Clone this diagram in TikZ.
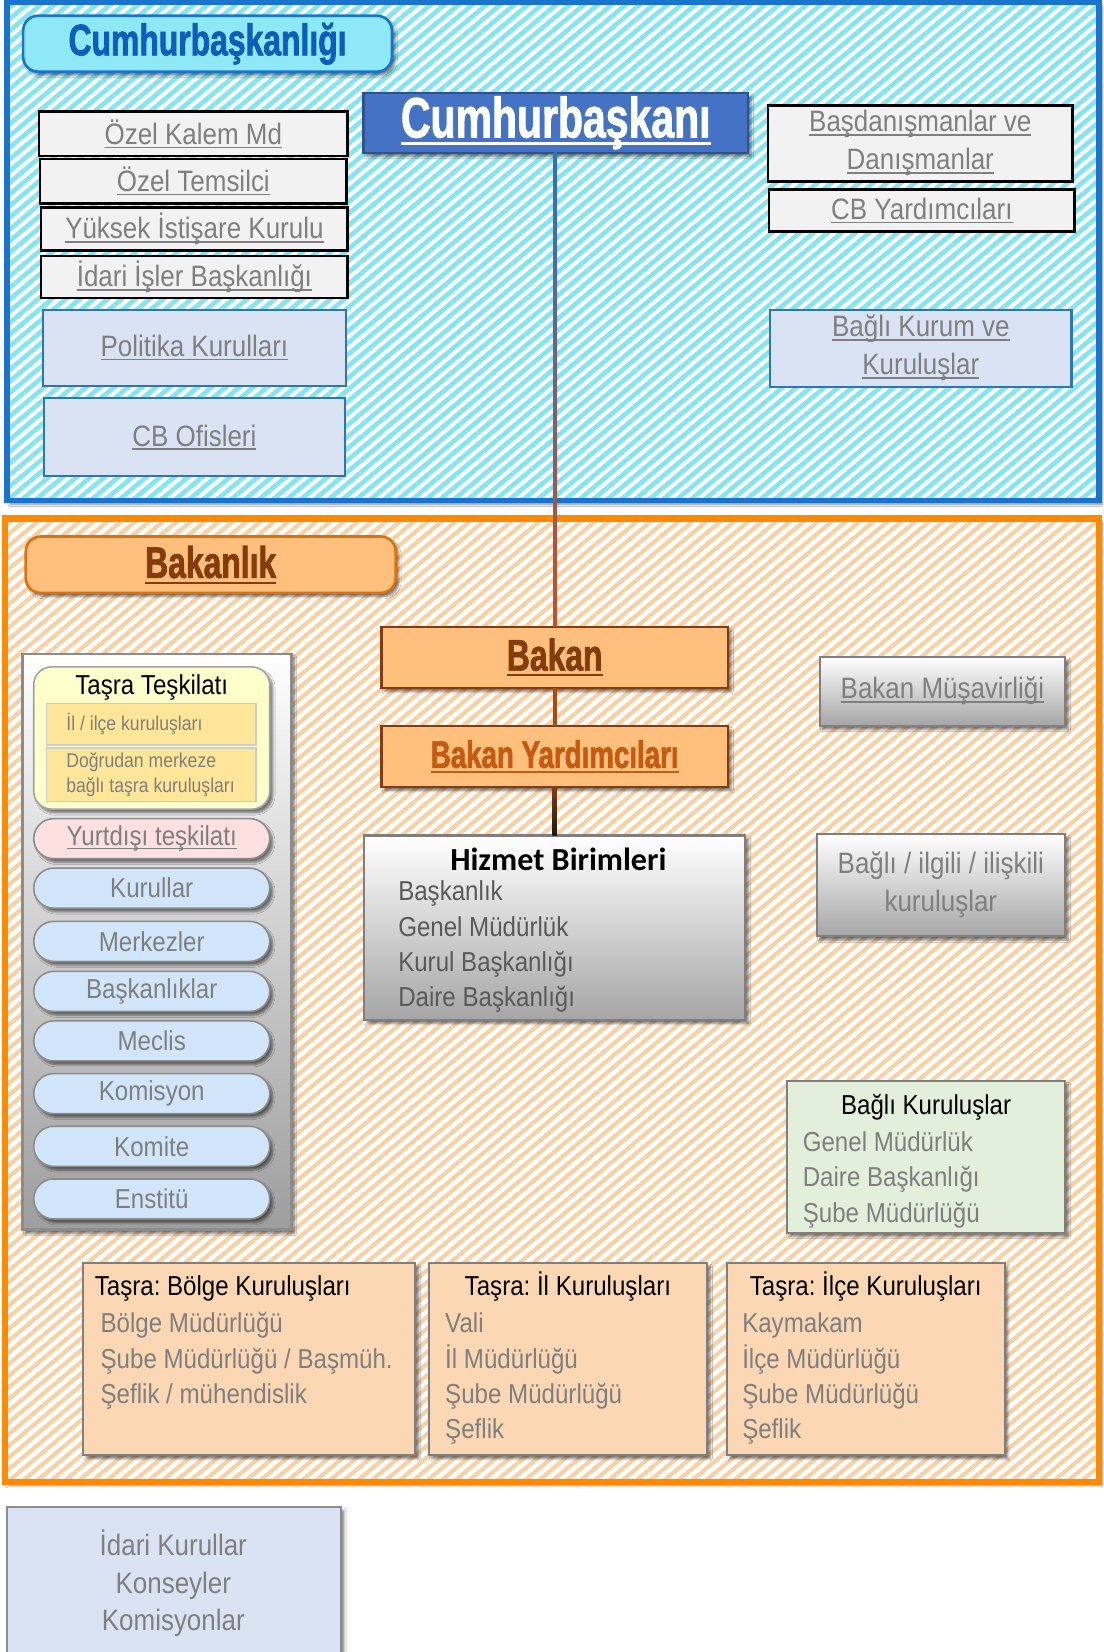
\documentclass[tikz,border=0pt]{standalone}
\usepackage{fontspec}
\setmainfont{Liberation Sans}[FakeStretch=0.88]
\newfontfamily\headfont{Liberation Sans}[FakeStretch=0.72,BoldFeatures={FakeBold=1.5}]
\newfontfamily\calfont{Carlito}
\usetikzlibrary{positioning,shadows.blur,patterns.meta}
\frenchspacing

\newcommand\undlthick{1.4pt}
\newcommand\undl[1]{\leavevmode\setbox0=\hbox{#1}\rlap{\rule[-0.13em]{\wd0}{\undlthick}}\box0}

\definecolor{frameblue}{HTML}{1874CD}
\definecolor{stripecyan}{HTML}{84E5F2}
\definecolor{headcyan}{HTML}{8FE8F5}
\definecolor{headblue}{HTML}{0B5FBA}
\definecolor{cbblue}{HTML}{4472C4}
\definecolor{cbborder}{HTML}{2F528F}
\definecolor{frameorange}{HTML}{FF8A00}
\definecolor{stripeorange}{HTML}{FCCFA0}
\definecolor{headorange}{HTML}{FFC07E}
\definecolor{headedge}{HTML}{D9720F}
\definecolor{bkbrown}{HTML}{843C0C}
\definecolor{bkrust}{HTML}{C55A11}
\definecolor{boxgray}{HTML}{F2F2F2}
\definecolor{txtgray}{HTML}{7F7F7F}
\definecolor{deepgray}{HTML}{595959}
\definecolor{edgegray}{HTML}{8C8C8C}
\definecolor{paleblue}{HTML}{DAE3F3}
\definecolor{policyedge}{HTML}{2E75B6}
\definecolor{pillblue}{HTML}{D2E6FB}
\definecolor{pillpink}{HTML}{FDE0E0}
\definecolor{paleyellow}{HTML}{FFFFCC}
\definecolor{goldfill}{HTML}{FFE699}
\definecolor{palegreen}{HTML}{E2EFDA}
\definecolor{peach}{HTML}{FBD7B4}
\definecolor{linepurple}{HTML}{8A5A92}
\definecolor{linered}{HTML}{C0522A}

\newcommand\boxfont{\fontsize{28}{36}\selectfont}
\newcommand\listfont{\fontsize{26}{33.5}\selectfont}
\newcommand\bigfont{\headfont\bfseries\fontsize{42}{44}\selectfont\def\undlthick{2pt}}

\tikzset{
  wh/.style 2 args={minimum width=#1pt,minimum height=#2pt},
  shadowed/.style={blur shadow={shadow xshift=3pt,shadow yshift=-3.5pt,shadow blur steps=6,shadow opacity=50}},
  blueframe/.style={fill=white,shadowed,
    postaction={pattern={Lines[angle=40,distance=8.5pt,line width=4.4pt]},pattern color=stripecyan},
    postaction={draw=frameblue,line width=5.5pt}},
  orangeframe/.style={fill=white,shadowed,
    postaction={pattern={Lines[angle=40,distance=8.5pt,line width=3.8pt]},pattern color=stripeorange},
    postaction={draw=frameorange,line width=6pt}},
  cbhead/.style={rounded corners=14pt,draw=frameblue,line width=2.5pt,fill=headcyan,text=headblue,font=\bigfont,shadowed},
  cbbox/.style={draw=cbborder,line width=2pt,fill=cbblue,text=white,
    font=\headfont\bfseries\fontsize{54}{56}\selectfont\def\undlthick{2.5pt},shadowed},
  graybox/.style={draw=black,line width=2.5pt,fill=boxgray,text=txtgray,font=\boxfont},
  bluebox/.style={draw=policyedge,line width=2pt,fill=paleblue,text=txtgray,font=\boxfont},
  bkhead/.style={rounded corners=14pt,draw=headedge,line width=2.5pt,fill=headorange,text=bkbrown,font=\bigfont,shadowed},
  bakanbox/.style={draw=bkbrown,line width=2.5pt,fill=headorange,text=bkbrown,font=\bigfont,shadowed},
  shadebox/.style={draw=txtgray,line width=2pt,top color=white,bottom color=black!35,shadowed},
  panel/.style={draw=edgegray,line width=2.5pt,top color=white,bottom color=black!38,shadowed},
  tasrabox/.style={rounded corners=17pt,draw=edgegray!80,line width=1.5pt,fill=paleyellow,shadowed},
  goldbox/.style={draw=black!20,line width=1.2pt,fill=goldfill},
  goldtxt/.style={text=txtgray,font=\fontsize{19}{24}\selectfont,align=left,anchor=west},
  pill/.style={rounded corners=19pt,draw=edgegray,line width=1.5pt,fill=pillblue,wh={224}{38},
    text=txtgray,font=\listfont,shadowed},
  plainbox/.style={draw=txtgray,line width=2pt,shadowed},
  listtxt/.style={text=txtgray,font=\listfont,align=left}
}

\begin{document}
\begin{tikzpicture}[x=1pt,y=-1pt,every node/.style={inner sep=0pt,outer sep=0pt}]
\useasboundingbox[fill=white] (0,0) rectangle (1047,1568);
%%First the two frames
\node[blueframe,wh={1036.5}{473}] (cbk) at (524.75,238.5) {};
\node[orangeframe,wh={1038.4}{914.5}] (bkn) at (523.8,949.25) {};
%%Cumhurbaskanligi part
\node[cbhead,wh={350}{53}] (cbktitle) at (197,41.5) {Cumhurbaşkanlığı};
\node[cbbox,wh={365}{57}] (cb) at (527.5,116.5) {\undl{Cumhurbaşkanı}};
\node[graybox,wh={293}{42}] (kalem) at (183.5,127) {\undl{Özel Kalem Md}};
\node[graybox,wh={291}{42}] (temsilci) [below=3pt of kalem] {\undl{Özel Temsilci}};
\node[graybox,wh={291}{41}] (yik) at (184.5,217.5) {\undl{Yüksek İstişare Kurulu}};
\node[graybox,wh={291}{40}] (idariisler) at (184.5,263) {\undl{İdari İşler Başkanlığı}};
\node[bluebox,wh={287}{72}] (politika) at (184.5,330) {\undl{Politika Kurulları}};
\node[bluebox,wh={286}{74}] (ofis) [below=12pt of politika] {\undl{CB Ofisleri}};
\node[graybox,wh={289}{72},align=center] (danisman) at (873.5,136) {\undl{Başdanışmanlar ve}\\\undl{Danışmanlar}};
\node[graybox,wh={290}{40}] (cbyrd) at (875,200) {\undl{CB Yardımcıları}};
\node[bluebox,wh={286}{73},align=center] (bagkurum) at (874,330.5) {\undl{Bağlı Kurum ve}\\\undl{Kuruluşlar}};
%%Bakanlik part
\node[bkhead,wh={351}{53.5}] (bkntitle) at (200,536) {\undl{Bakanlık}};
\node[bakanbox,wh={329}{58}] (bakan) at (526.5,624) {\undl{Bakan}};
\node[bakanbox,wh={329}{58},text=bkrust,font=\headfont\bfseries\fontsize{36.5}{38}\selectfont\def\undlthick{2pt}]
  (byrd) [below=36pt of bakan] {\undl{Bakan Yardımcıları}};
\node[shadebox,wh={361.5}{175}] (hizmet) [below=46pt of byrd] {};
\node[font=\calfont\bfseries\fontsize{30.5}{32}\selectfont,anchor=base] (hizmettitle) at (530,826) {Hizmet Birimleri};
\node[listtxt,text=deepgray,anchor=base west] (hizmetlist) at (378,955.5)
  {Başkanlık\\Genel Müdürlük\\Kurul Başkanlığı\\Daire Başkanlığı};
\node[shadebox,wh={233}{65.5},text=txtgray,font=\boxfont] (musavir) at (894.5,656) {\undl{Bakan Müşavirliği}};
\node[shadebox,wh={235.5}{97.5},text=txtgray,font=\boxfont,align=center] (ilgili) at (893,840)
  {Bağlı / ilgili / ilişkili\\kuruluşlar};
%%Left panel
\node[panel,wh={255}{546.5}] (panel) at (149,894) {};
\node[tasrabox,wh={224}{135}] (tasra) at (144,700.5) {};
\node[font=\listfont,anchor=base] (tasratitle) at (144,659) {Taşra Teşkilatı};
\node[goldbox,wh={199}{39}] (ililce) at (143.5,687.5) {};
\node[goldbox,wh={199}{51}] (merkeze) at (143.5,735.5) {};
\node[goldtxt] (ililcetxt) at (63,687.5) {İl / ilçe kuruluşları};
\node[goldtxt] (merkezetxt) at (63,735.5) {Doğrudan merkeze\\bağlı taşra kuruluşları};
\node[pill,fill=pillpink] (yurtdisi) at (144,796) {\undl{Yurtdışı teşkilatı}};
\node[pill] (kurullar) at (144,843) {Kurullar};
\node[pill] (merkezler) at (144,893.5) {Merkezler};
\node[pill] (baskanliklar) at (144,941) {Başkanlıklar};
\node[pill] (meclis) at (144,988) {Meclis};
\node[pill] (komisyon) at (144,1038) {Komisyon};
\node[pill] (komite) at (144,1088) {Komite};
\node[pill] (enstitu) at (144,1138) {Enstitü};
%%Bagli kuruluslar
\node[plainbox,fill=palegreen,wh={264}{144}] (baglikur) at (879,1098) {};
\node[font=\listfont,anchor=base] (baglikurtitle) at (879,1058) {Bağlı Kuruluşlar};
\node[listtxt,anchor=base west] (baglikurlist) at (762,1160) {Genel Müdürlük\\Daire Başkanlığı\\Şube Müdürlüğü};
%%Tasra boxes
\node[plainbox,fill=peach,wh={315}{182.5}] (bolge) at (236.5,1289.75) {};
\node[plainbox,fill=peach,wh={264}{182.5}] (il) at (539,1289.75) {};
\node[plainbox,fill=peach,wh={263.5}{182.5}] (ilce) at (821.75,1289.75) {};
\node[font=\listfont,anchor=base west] (bolgetitle) at (90,1230) {Taşra: Bölge Kuruluşları};
\node[font=\listfont,anchor=base] (iltitle) at (539,1230) {Taşra: İl Kuruluşları};
\node[font=\listfont,anchor=base] (ilcetitle) at (821.75,1230) {Taşra: İlçe Kuruluşları};
\node[listtxt,anchor=base west] (bolgelist) at (95.5,1332) {Bölge Müdürlüğü\\Şube Müdürlüğü / Başmüh.\\Şeflik / mühendislik};
\node[listtxt,anchor=base west] (illist) at (422.6,1365.5) {Vali\\İl Müdürlüğü\\Şube Müdürlüğü\\Şeflik};
\node[listtxt,anchor=base west] (ilcelist) at (704.5,1365.5) {Kaymakam\\İlçe Müdürlüğü\\Şube Müdürlüğü\\Şeflik};
%%Idari kurullar below
\node[plainbox,draw=edgegray,fill=paleblue,wh={316.5}{170}] (idari) at (165.25,1515) {};
\node[font=\boxfont,text=txtgray,align=center,anchor=base] (idarilist) at (164.5,1548) {İdari Kurullar\\Konseyler\\Komisyonlar};
%%Draw the connectors
\shade[top color=policyedge,middle color=linepurple,bottom color=linered]
  ([xshift=-2.3pt]cb.south) rectangle ([xshift=2.3pt]bakan.north);
\fill[bkrust!85!black] ([xshift=-2pt]bakan.south) rectangle ([xshift=2pt]byrd.north);
\shade[top color=bkbrown,bottom color=black!90] ([xshift=-2pt]byrd.south) rectangle ([xshift=2pt]hizmet.north);
\end{tikzpicture}
\end{document}
